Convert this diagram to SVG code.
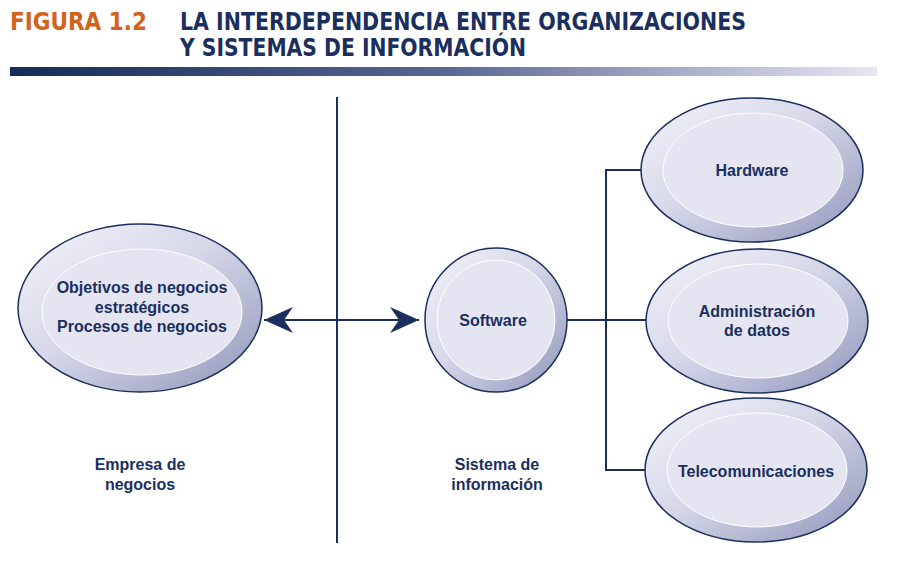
<svg xmlns="http://www.w3.org/2000/svg" width="897" height="570" viewBox="0 0 897 570">
<style>
.t{font-family:"Liberation Sans",Arial,sans-serif;font-weight:bold;font-size:16px;fill:#1b2f5e;text-anchor:middle}
.h{font-family:"DejaVu Sans Condensed","DejaVu Sans",sans-serif;font-weight:bold;font-size:24px}
.outer{fill:url(#og);stroke:#1b2f5e;stroke-width:1.5}
.inner{fill:#e4e5f1;stroke:#ffffff;stroke-width:1}
.ln{stroke:#1b2f5e;stroke-width:2;fill:none}
</style>
<defs>
<linearGradient id="og" x1="0" y1="0" x2="1" y2="1">
<stop offset="0" stop-color="#f4f4fa"/>
<stop offset="0.45" stop-color="#d6d8e8"/>
<stop offset="1" stop-color="#9095ba"/>
</linearGradient>
<linearGradient id="bar" x1="0" y1="0" x2="1" y2="0">
<stop offset="0" stop-color="#142c58"/>
<stop offset="0.5" stop-color="#5a6595"/>
<stop offset="1" stop-color="#e8e8f3"/>
</linearGradient>
<marker id="ah" markerWidth="30" markerHeight="26" refX="29" refY="13" orient="auto-start-reverse" markerUnits="userSpaceOnUse">
<path d="M0,0 L29,13 L0,26 L9,13 Z" fill="#1b2f5e"/>
</marker>
</defs>
<g id="title">
<text class="h" x="10" y="30" fill="#d2631c" textLength="137" lengthAdjust="spacingAndGlyphs">FIGURA 1.2</text>
<text class="h" x="180" y="30" fill="#1b2f5e" textLength="566" lengthAdjust="spacingAndGlyphs">LA INTERDEPENDENCIA ENTRE ORGANIZACIONES</text>
<text class="h" x="180" y="56" fill="#1b2f5e" textLength="346" lengthAdjust="spacingAndGlyphs">Y SISTEMAS DE INFORMACIÓN</text>
<rect x="10" y="67" width="867" height="9" fill="url(#bar)"/>
</g>
<g id="connectors">
<line class="ln" x1="337" y1="97" x2="337" y2="543"/>
<line class="ln" x1="264" y1="320" x2="419" y2="320" marker-start="url(#ah)" marker-end="url(#ah)"/>
<line class="ln" x1="567" y1="320" x2="647" y2="320"/>
<polyline class="ln" points="642,170 606,170 606,470 645,470"/>
</g>
<g id="empresa">
<ellipse class="outer" cx="140" cy="308" rx="122" ry="84"/>
<ellipse class="inner" cx="142" cy="312" rx="100" ry="63"/>
<text class="t" x="142" y="293">Objetivos de negocios</text>
<text class="t" x="142" y="313">estratégicos</text>
<text class="t" x="142" y="332">Procesos de negocios</text>
</g>
<g id="software">
<ellipse class="outer" cx="496" cy="320" rx="71" ry="72"/>
<ellipse class="inner" cx="496" cy="320" rx="59" ry="60"/>
<text class="t" x="493" y="326">Software</text>
</g>
<g id="hardware">
<ellipse class="outer" cx="752" cy="170" rx="111" ry="72"/>
<ellipse class="inner" cx="753" cy="170" rx="90" ry="57"/>
<text class="t" x="752" y="176">Hardware</text>
</g>
<g id="datos">
<ellipse class="outer" cx="757" cy="321" rx="111" ry="72"/>
<ellipse class="inner" cx="758" cy="321" rx="90" ry="57"/>
<text class="t" x="757" y="317">Administración</text>
<text class="t" x="757" y="336">de datos</text>
</g>
<g id="telecom">
<ellipse class="outer" cx="756" cy="470" rx="111" ry="72"/>
<ellipse class="inner" cx="757" cy="470" rx="90" ry="57"/>
<text class="t" x="756" y="477">Telecomunicaciones</text>
</g>
<g id="labels">
<text class="t" x="140" y="470">Empresa de</text>
<text class="t" x="140" y="490">negocios</text>
<text class="t" x="497" y="470">Sistema de</text>
<text class="t" x="497" y="490">información</text>
</g>
</svg>
